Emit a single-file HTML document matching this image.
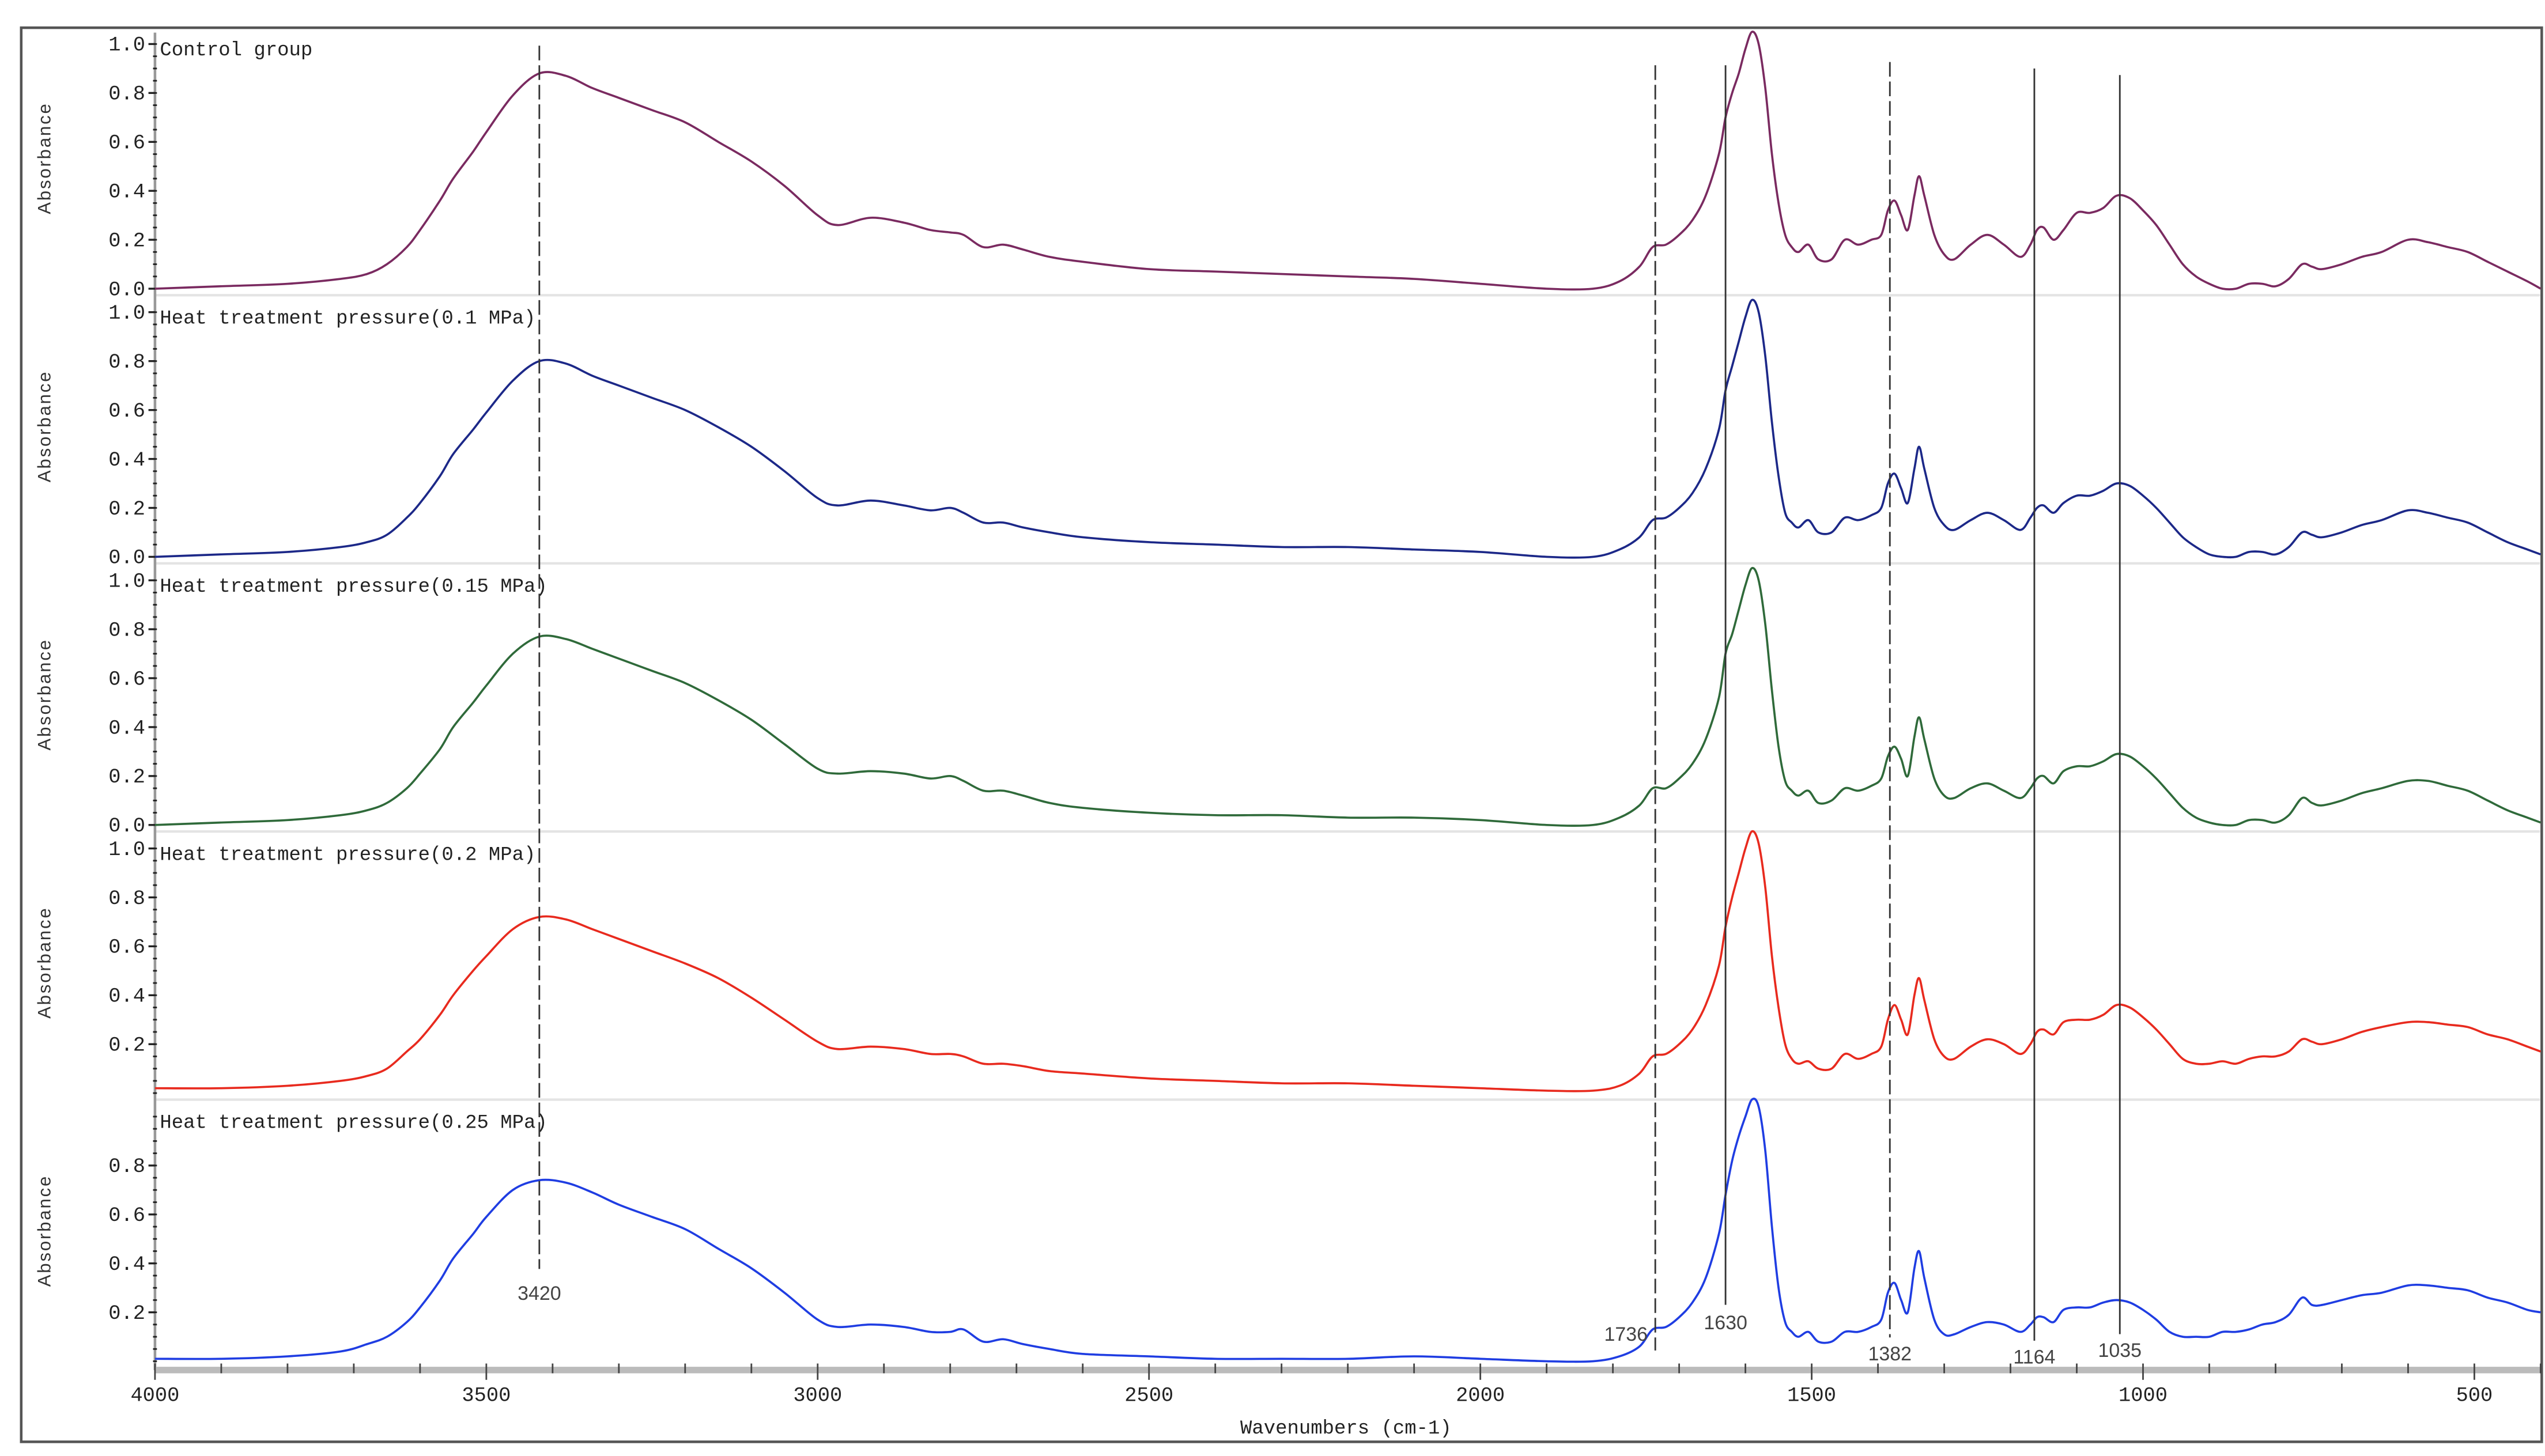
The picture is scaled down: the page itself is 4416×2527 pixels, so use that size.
<!DOCTYPE html>
<html><head><meta charset="utf-8"><style>
html,body{margin:0;padding:0;background:#fff;}
svg{display:block;}
</style></head><body>
<svg id="chart" width="4416" height="2527" viewBox="0 0 1560 892.7" preserveAspectRatio="none" xmlns="http://www.w3.org/2000/svg">
<rect x="13" y="17" width="1545" height="867" fill="#fff" stroke="#555" stroke-width="1.6"/>
<g id="g"></g>
</svg>
<script>
const wavenumbers=[4000,3900,3800,3720,3680,3650,3620,3600,3570,3550,
3520,3500,3460,3420,3380,3340,3300,3250,3200,3150,
3100,3050,3000,2970,2920,2870,2830,2800,2780,2750,
2720,2690,2650,2600,2500,2400,2300,2200,2100,2000,
1900,1830,1790,1760,1740,1720,1700,1680,1660,1640,
1630,1620,1610,1600,1590,1580,1570,1560,1550,1540,
1530,1520,1505,1490,1470,1450,1430,1410,1395,1385,
1375,1365,1355,1345,1338,1330,1315,1300,1285,1260,
1235,1210,1185,1170,1160,1150,1135,1120,1100,1080,
1060,1040,1020,1000,980,960,940,920,900,880,
860,840,820,800,780,760,745,730,700,670,
640,600,570,540,510,480,450,420,400];
const controlGroup=[0.0,0.01,0.02,0.04,0.06,0.1,0.17,0.24,0.36,0.45,
0.56,0.64,0.79,0.88,0.87,0.82,0.78,0.73,0.68,0.60,
0.52,0.42,0.30,0.26,0.29,0.27,0.24,0.23,0.22,0.17,
0.18,0.16,0.13,0.11,0.08,0.07,0.06,0.05,0.04,0.02,
0.0,0.0,0.03,0.09,0.17,0.18,0.22,0.28,0.38,0.55,
0.70,0.80,0.88,0.98,1.05,1.0,0.82,0.55,0.35,0.22,
0.17,0.15,0.18,0.12,0.12,0.2,0.18,0.2,0.22,0.32,
0.36,0.3,0.24,0.38,0.46,0.38,0.22,0.14,0.12,0.18,
0.22,0.18,0.13,0.18,0.24,0.25,0.2,0.24,0.31,0.31,
0.33,0.38,0.37,0.32,0.26,0.18,0.1,0.05,0.02,0.0,
0.0,0.02,0.02,0.01,0.04,0.1,0.09,0.08,0.1,0.13,
0.15,0.2,0.19,0.17,0.15,0.11,0.07,0.03,0.0];
const pressure01=[0.0,0.01,0.02,0.04,0.06,0.09,0.16,0.22,0.33,0.42,
0.52,0.59,0.72,0.80,0.79,0.74,0.70,0.65,0.60,0.53,
0.45,0.35,0.24,0.21,0.23,0.21,0.19,0.2,0.18,0.14,
0.14,0.12,0.1,0.08,0.06,0.05,0.04,0.04,0.03,0.02,
0.0,0.0,0.03,0.08,0.15,0.16,0.2,0.26,0.36,0.52,
0.68,0.78,0.88,0.98,1.05,1.0,0.82,0.55,0.33,0.18,
0.14,0.12,0.15,0.1,0.1,0.16,0.15,0.17,0.2,0.3,
0.34,0.28,0.22,0.36,0.45,0.36,0.2,0.13,0.11,0.15,
0.18,0.15,0.11,0.16,0.2,0.21,0.18,0.22,0.25,0.25,
0.27,0.3,0.29,0.25,0.2,0.14,0.08,0.04,0.01,0.0,
0.0,0.02,0.02,0.01,0.04,0.1,0.09,0.08,0.1,0.13,
0.15,0.19,0.18,0.16,0.14,0.1,0.06,0.03,0.01];
const pressure015=[0.0,0.01,0.02,0.04,0.06,0.09,0.15,0.21,0.31,0.4,
0.5,0.57,0.7,0.77,0.76,0.72,0.68,0.63,0.58,0.51,
0.43,0.33,0.23,0.21,0.22,0.21,0.19,0.2,0.18,0.14,
0.14,0.12,0.09,0.07,0.05,0.04,0.04,0.03,0.03,0.02,
0.0,0.0,0.03,0.08,0.15,0.15,0.19,0.25,0.35,0.52,
0.7,0.78,0.88,0.98,1.05,1.0,0.82,0.55,0.32,0.18,
0.14,0.12,0.14,0.09,0.1,0.15,0.14,0.16,0.19,0.28,
0.32,0.27,0.2,0.36,0.44,0.35,0.19,0.12,0.11,0.15,
0.17,0.14,0.11,0.15,0.19,0.2,0.17,0.22,0.24,0.24,
0.26,0.29,0.28,0.24,0.19,0.13,0.07,0.03,0.01,0.0,
0.0,0.02,0.02,0.01,0.04,0.11,0.09,0.08,0.1,0.13,
0.15,0.18,0.18,0.16,0.14,0.1,0.06,0.03,0.01];
const pressure02=[0.02,0.02,0.03,0.05,0.07,0.1,0.17,0.22,0.32,0.4,
0.5,0.56,0.67,0.72,0.71,0.67,0.63,0.58,0.53,0.47,
0.39,0.3,0.21,0.18,0.19,0.18,0.16,0.16,0.15,0.12,
0.12,0.11,0.09,0.08,0.06,0.05,0.04,0.04,0.03,0.02,
0.01,0.01,0.03,0.08,0.15,0.16,0.2,0.26,0.36,0.52,
0.68,0.8,0.9,1.0,1.07,1.02,0.84,0.56,0.35,0.2,
0.14,0.12,0.13,0.1,0.1,0.16,0.14,0.16,0.19,0.3,
0.36,0.3,0.24,0.4,0.47,0.38,0.22,0.15,0.14,0.19,
0.22,0.2,0.16,0.2,0.25,0.26,0.24,0.29,0.3,0.3,
0.32,0.36,0.35,0.31,0.26,0.2,0.14,0.12,0.12,0.13,
0.12,0.14,0.15,0.15,0.17,0.22,0.21,0.2,0.22,0.25,
0.27,0.29,0.29,0.28,0.27,0.24,0.22,0.19,0.17];
const pressure025=[0.01,0.01,0.02,0.04,0.07,0.1,0.16,0.22,0.33,0.42,
0.52,0.59,0.7,0.74,0.73,0.69,0.64,0.59,0.54,0.46,
0.38,0.28,0.17,0.14,0.15,0.14,0.12,0.12,0.13,0.08,
0.09,0.07,0.05,0.03,0.02,0.01,0.01,0.01,0.02,0.01,
0.0,0.0,0.02,0.06,0.13,0.14,0.18,0.24,0.34,0.52,
0.68,0.82,0.92,1.0,1.07,1.04,0.86,0.55,0.3,0.16,
0.12,0.1,0.12,0.08,0.08,0.12,0.12,0.14,0.17,0.28,
0.32,0.25,0.2,0.38,0.45,0.34,0.17,0.11,0.11,0.14,
0.16,0.15,0.12,0.15,0.18,0.18,0.16,0.21,0.22,0.22,
0.24,0.25,0.24,0.21,0.17,0.12,0.1,0.1,0.1,0.12,
0.12,0.13,0.15,0.16,0.19,0.26,0.23,0.23,0.25,0.27,
0.28,0.31,0.31,0.3,0.29,0.26,0.24,0.21,0.2];
const seriesNames=["Control group","Heat treatment pressure(0.1 MPa)","Heat treatment pressure(0.15 MPa)","Heat treatment pressure(0.2 MPa)","Heat treatment pressure(0.25 MPa)"];
const xTicks=[4000,3500,3000,2500,2000,1500,1000,500];
const peakMarks=[3420,1736,1630,1382,1164,1035];
const yTickSets=[[0,0.2,0.4,0.6,0.8,1.0],[0,0.2,0.4,0.6,0.8,1.0],[0,0.2,0.4,0.6,0.8,1.0],[0.2,0.4,0.6,0.8,1.0],[0.2,0.4,0.6,0.8]];

const NS="http://www.w3.org/2000/svg";
const g=document.getElementById('g');
const allSeries=[controlGroup,pressure01,pressure015,pressure02,pressure025];
const colors=["#7a2a60","#1c2888","#2f6a3a","#e82a1e","#1f3de2"];
const X0=95, PX=0.4062;
function xs(w){return X0+(4000-w)*PX;}
const base0=177, panelH=164.4, yScale=150;
function ys(k,v){return base0+panelH*k - v*yScale;}
function mk(tag,attrs){const e=document.createElementNS(NS,tag);for(const k in attrs)e.setAttribute(k,attrs[k]);g.appendChild(e);return e;}
const F='"Liberation Mono", monospace';

// panel separators
for(let k=0;k<4;k++){
  const sy=base0+panelH*k+4;
  const l=mk('line',{x1:X0,x2:1557,y1:sy,y2:sy,stroke:'#e4e4e4','stroke-width':1.5});
  
  
}
// y axis line
const ya=mk('line',{x1:X0,x2:X0,y1:20,y2:840,stroke:'#999','stroke-width':1.6});



for(let k=0;k<5;k++){
  // minor dots
  for(let v=0;v<=1.0001;v+=0.05){
    const yy=ys(k,v); if(yy<20||yy>840)continue;
    const d=mk('line',{x1:X0-1.2,x2:X0+1.2,y1:yy,y2:yy,stroke:'#222','stroke-width':1});
    
    
  }
  yTickSets[k].forEach(v=>{
    const yy=ys(k,v);
    const t=mk('line',{x1:X0-4,x2:X0,y1:yy,y2:yy,stroke:'#222','stroke-width':1.2});
    
    
    const tx=mk('text',{x:X0-6,y:yy+4,'text-anchor':'end','font-family':F,'font-size':12.5,fill:'#222'});
    tx.textContent=v.toFixed(1);
    
    
  });
  const cy=base0+panelH*k-80;
  const yt=mk('text',{x:31,y:cy,'text-anchor':'middle','font-family':'"Liberation Sans", sans-serif','font-size':11,fill:'#333','letter-spacing':'1',transform:`rotate(-90 31 ${cy})`});
  yt.textContent='Absorbance';
  
  
  const lb=mk('text',{x:98,y:base0+panelH*k-143,'font-family':F,'font-size':12,fill:'#222'});
  lb.textContent=seriesNames[k];
  
  
}

// spectra (Catmull-Rom smoothing)
allSeries.forEach((arr,k)=>{
  const pts=wavenumbers.map((w,i)=>[xs(w),ys(k,arr[i])]);
  let d=`M${pts[0][0].toFixed(2)},${pts[0][1].toFixed(2)}`;
  for(let i=0;i<pts.length-1;i++){
    const p0=pts[Math.max(0,i-1)],p1=pts[i],p2=pts[i+1],p3=pts[Math.min(pts.length-1,i+2)];
    const c1=[p1[0]+(p2[0]-p0[0])/6,p1[1]+(p2[1]-p0[1])/6];
    const c2=[p2[0]-(p3[0]-p1[0])/6,p2[1]-(p3[1]-p1[1])/6];
    d+=` C${c1[0].toFixed(2)},${c1[1].toFixed(2)} ${c2[0].toFixed(2)},${c2[1].toFixed(2)} ${p2[0].toFixed(2)},${p2[1].toFixed(2)}`;
  }
  const p=mk('path',{d:d,fill:'none',stroke:colors[k],'stroke-width':1.3});
  
  
});

// peak marker lines
const markTop=[28,40,40,38,42,46], markBot=[778,828,800,820,822,818], labY=[797,822,815,834,836,832];
peakMarks.forEach((w,i)=>{
  const x=xs(w);
  const l=mk('line',{x1:x,x2:x,y1:markTop[i],y2:markBot[i],stroke:'#333','stroke-width':1,'stroke-dasharray':i===0||i===1||i===3?'9,3':'none'});
  
  
  const t=mk('text',{x:x-(i===1?18:0),y:labY[i],'text-anchor':'middle','font-family':'"Liberation Sans", sans-serif','font-size':12,fill:'#444'});
  t.textContent=String(w);
  
  
});

// x axis
const band=mk('rect',{x:X0,y:838,width:1462,height:4,fill:'#bbb'});


for(let w=4000;w>=400;w-=100){
  const t=mk('line',{x1:xs(w),x2:xs(w),y1:836,y2:(w%500===0)?846:842,stroke:'#444','stroke-width':1});
  
  
}
xTicks.forEach(w=>{
  const t=mk('text',{x:xs(w),y:859,'text-anchor':'middle','font-family':F,'font-size':12.5,fill:'#222'});
  t.textContent=String(w);
  
  
});
const xt=mk('text',{x:825,y:879,'text-anchor':'middle','font-family':F,'font-size':12,fill:'#222'});
xt.textContent='Wavenumbers (cm-1)';


</script>
</body></html>
